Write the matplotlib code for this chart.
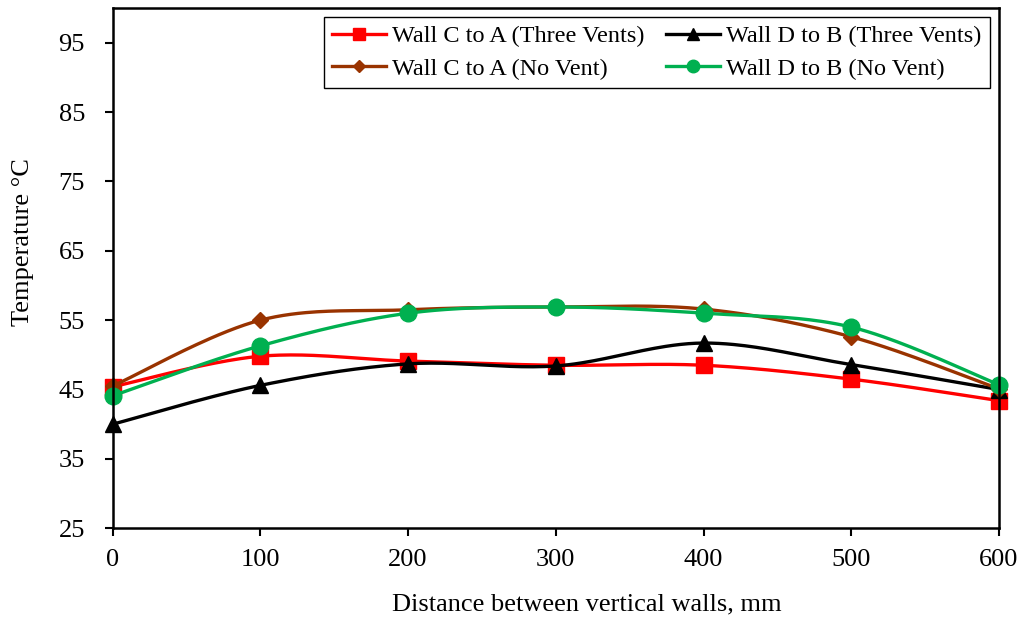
import numpy as np
import matplotlib
matplotlib.use("Agg")
import matplotlib.pyplot as plt
from matplotlib.lines import Line2D

plt.rcParams['font.family'] = ['Liberation Serif', 'DejaVu Serif']

distance = [0, 100, 200, 300, 400, 500, 600]
c_to_a_three_vents = [45.4, 49.8, 49.1, 48.5, 48.5, 46.5, 43.4]
d_to_b_three_vents = [40.0, 45.6, 48.7, 48.4, 51.7, 48.6, 45.0]
c_to_a_no_vent = [45.5, 55.0, 56.5, 56.9, 56.6, 52.6, 45.1]
d_to_b_no_vent = [44.1, 51.3, 56.0, 56.9, 56.0, 54.0, 45.7]

labels = ["Wall C to A (Three Vents)", "Wall D to B (Three Vents)",
          "Wall C to A (No Vent)", "Wall D to B (No Vent)"]
series = [c_to_a_three_vents, d_to_b_three_vents, c_to_a_no_vent, d_to_b_no_vent]
colors = ["#FF0000", "#000000", "#993300", "#00B050"]
markers = ["s", "^", "D", "o"]
msizes = [11, 11, 8, 12]


def smooth(x, y, n=40):
    x = np.asarray(x, float)
    y = np.asarray(y, float)
    px = np.concatenate([[x[0]], x, [x[-1]]])
    py = np.concatenate([[y[0]], y, [y[-1]]])
    xs, ys = [], []
    t = np.linspace(0, 1, n)
    for i in range(1, len(px) - 2):
        p0 = np.array([px[i], py[i]])
        p3 = np.array([px[i + 1], py[i + 1]])
        c1 = p0 + (np.array([px[i + 1], py[i + 1]]) - np.array([px[i - 1], py[i - 1]])) / 6
        c2 = p3 - (np.array([px[i + 2], py[i + 2]]) - np.array([px[i], py[i]])) / 6
        b = ((1 - t) ** 3)[:, None] * p0 + (3 * (1 - t) ** 2 * t)[:, None] * c1 \
            + (3 * (1 - t) * t ** 2)[:, None] * c2 + (t ** 3)[:, None] * p3
        xs.extend(b[:, 0])
        ys.extend(b[:, 1])
    return np.array(xs), np.array(ys)


fig = plt.figure(figsize=(10.27, 6.24), dpi=100)
ax = fig.add_axes([0.1097, 0.1534, 0.9727 - 0.1097, 0.9872 - 0.1534])

handles = []
for y, c, m, ms, lab in zip(series, colors, markers, msizes, labels):
    sx, sy = smooth(distance, y)
    ax.plot(sx, sy, color=c, lw=2.4, solid_capstyle='round', clip_on=False)
    ax.plot(distance, y, linestyle='none', marker=m, color=c, markersize=ms, clip_on=False)
    handles.append(Line2D([], [], color=c, lw=2.4, marker=m, markersize=ms * 0.75, label=lab))

ax.set_xlim(0, 600)
ax.set_ylim(25, 100)
ax.set_xticks(distance)
ax.set_yticks([25, 35, 45, 55, 65, 75, 85, 95])
ax.tick_params(direction='out', length=6, width=1.5, labelsize=19)
ax.tick_params(axis='y', pad=14)
ax.tick_params(axis='x', pad=9)
for s in ax.spines.values():
    s.set_linewidth(1.8)
ax.set_xlabel("Distance between vertical walls, mm", fontsize=19)
ax.xaxis.set_label_coords(0.535, -0.126)
ax.set_ylabel("Temperature °C", fontsize=19)
ax.yaxis.set_label_coords(-0.089, 0.55)

order = [0, 2, 1, 3]
leg = ax.legend([handles[i] for i in order], [labels[i] for i in order], ncol=2,
                loc='upper right', bbox_to_anchor=(0.9895, 0.983), fontsize=17.5,
                frameon=True, fancybox=False, framealpha=1, edgecolor='black',
                handlelength=2.2, handletextpad=0.25, columnspacing=0.9,
                borderpad=0.35, labelspacing=0.43, borderaxespad=0)
leg.get_frame().set_linewidth(1.0)

fig.savefig("out.png", dpi=100)
